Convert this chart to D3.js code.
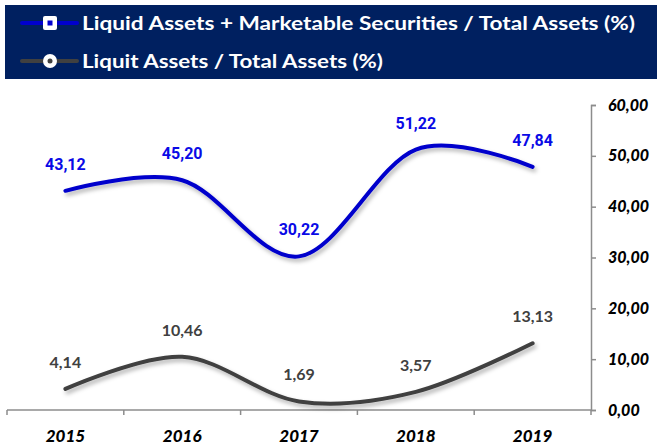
<!DOCTYPE html>
<html>
<head>
<meta charset="utf-8">
<script src="https://cdn.jsdelivr.net/npm/d3@7"></script>
<style>
  body { margin: 0; background: #fff; }
  svg { display: block; }
</style>
</head>
<body>
<svg id="chart" width="657" height="447"></svg>
<script>
// data
var years = ["2015", "2016", "2017", "2018", "2019"]
var liquidPlusSec = [43.12, 45.20, 30.22, 51.22, 47.84]
var liquidOnly = [4.14, 10.46, 1.69, 3.57, 13.13]
var yTicks = [0, 10, 20, 30, 40, 50, 60]
var seriesNames = ["Liquid Assets + Marketable Securities / Total Assets (%)", "Liquit Assets / Total Assets (%)"]

var fmt = function(v){ return d3.format(".2f")(v).replace(".", ",") }

var svg = d3.select("#chart")

// drop shadow for the lines
var defs = svg.append("defs")
var f = defs.append("filter").attr("id", "shadow")
  .attr("x", "-10%").attr("y", "-20%").attr("width", "130%").attr("height", "150%")
f.append("feDropShadow").attr("dx", 2).attr("dy", 3).attr("stdDeviation", 2)
  .attr("flood-color", "#000").attr("flood-opacity", 0.3)

// legend box
var lg = svg.append("g")
lg.append("rect").attr("x", 5).attr("y", 5).attr("width", 660).attr("height", 74).attr("fill", "#002060")

var legendRows = [
  {name: seriesNames[0], color: "#0000cc", y: 23, shape: "square", len: 553},
  {name: seriesNames[1], color: "#404040", y: 61, shape: "circle", len: 301}
]
legendRows.forEach(function(r){
  lg.append("line").attr("x1", 22).attr("x2", 77).attr("y1", r.y).attr("y2", r.y)
    .attr("stroke", r.color).attr("stroke-width", 4).attr("stroke-linecap", "round")
  if (r.shape == "square") {
    lg.append("rect").attr("x", 43).attr("y", r.y - 7).attr("width", 14).attr("height", 14)
      .attr("rx", 2).attr("fill", "#fff")
    lg.append("rect").attr("x", 47.5).attr("y", r.y - 2.5).attr("width", 5).attr("height", 5).attr("fill", r.color)
  } else {
    lg.append("circle").attr("cx", 50).attr("cy", r.y).attr("r", 7).attr("fill", "#fff")
    lg.append("circle").attr("cx", 50).attr("cy", r.y).attr("r", 2.5).attr("fill", r.color)
  }
  lg.append("text").attr("x", 82).attr("y", r.y).attr("dy", "0.35em")
    .attr("fill", "#fff").attr("font-family", "Lato, 'DejaVu Sans', sans-serif")
    .attr("font-weight", "bold").attr("font-size", 19)
    .attr("textLength", r.len).attr("lengthAdjust", "spacingAndGlyphs")
    .text(r.name)
})

// scales
var x = d3.scaleBand().domain(years).range([7, 591])
var y = d3.scaleLinear().domain([0, 60]).range([410, 105])
var cx = function(i){ return x(years[i]) + x.bandwidth() / 2 }

// x axis
var xAxis = svg.append("g").attr("transform", "translate(0,410)")
xAxis.append("line").attr("x1", 7).attr("x2", 591).attr("stroke", "#8c8c8c").attr("stroke-width", 1.5)
var bounds = years.map(function(d){ return x(d) }).concat([591])
xAxis.selectAll(".xt").data(bounds).enter().append("line")
  .attr("x1", function(d){ return d }).attr("x2", function(d){ return d })
  .attr("y1", 0).attr("y2", 5).attr("stroke", "#8c8c8c").attr("stroke-width", 1.5)
xAxis.selectAll(".xl").data(years).enter().append("text")
  .attr("x", function(d){ return x(d) + x.bandwidth() / 2 })
  .attr("y", 32).attr("text-anchor", "middle")
  .attr("font-family", "Lato, sans-serif").attr("font-weight", "900").attr("font-style", "italic")
  .attr("font-size", 17).attr("fill", "#000")
  .text(function(d){ return d })

// y axis on the right
var yAxis = svg.append("g").attr("transform", "translate(591,0)")
  .call(d3.axisRight(y).tickValues(yTicks).tickSize(5).tickPadding(12).tickFormat(fmt))
yAxis.select(".domain").attr("stroke", "#8c8c8c").attr("stroke-width", 1.5)
yAxis.selectAll(".tick line").attr("stroke", "#8c8c8c").attr("stroke-width", 1.5)
yAxis.selectAll(".tick text")
  .attr("font-family", "Lato, sans-serif").attr("font-weight", "900").attr("font-style", "italic")
  .attr("font-size", 16).attr("fill", "#000")

// lines
var line = d3.line()
  .x(function(d, i){ return cx(i) })
  .y(function(d){ return y(d) })
  .curve(d3.curveCardinal.tension(0))

var series = [
  {values: liquidPlusSec, color: "#0000cc", label: "#0a0ae6", font: "Roboto, sans-serif"},
  {values: liquidOnly, color: "#404040", label: "#404040", font: "Lato, sans-serif"}
]

series.forEach(function(s){
  svg.append("path").datum(s.values)
    .attr("d", line).attr("fill", "none")
    .attr("stroke", s.color).attr("stroke-width", 4).attr("stroke-linecap", "round")
    .attr("filter", "url(#shadow)")
  svg.append("g").selectAll("text").data(s.values).enter().append("text")
    .attr("x", function(d, i){ return cx(i) })
    .attr("y", function(d){ return y(d) - 21 })
    .attr("text-anchor", "middle")
    .attr("font-family", s.font).attr("font-weight", "bold").attr("font-size", 16)
    .attr("fill", s.label)
    .text(function(d){ return fmt(d) })
})
</script>
</body>
</html>
